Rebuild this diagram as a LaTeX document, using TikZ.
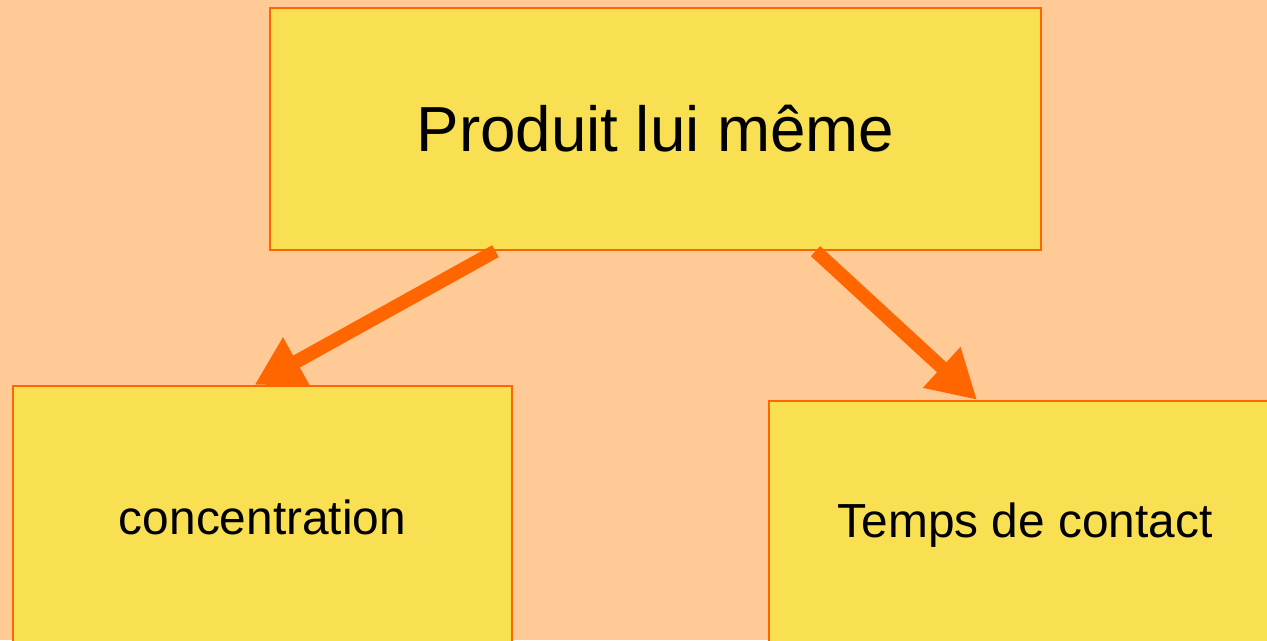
\documentclass[tikz,border=0pt]{standalone}
\usepackage{fontspec}
\setmainfont{Liberation Sans}
\usetikzlibrary{arrows.meta,positioning}
\definecolor{peach}{HTML}{FFCA96}
\definecolor{boxyellow}{HTML}{F9DF52}
\definecolor{darkorange}{HTML}{FF6600}
\tikzset{
    %Define style for boxes
    kasten/.style={
           rectangle,
           fill=boxyellow,
           draw=darkorange, line width=1.6pt,
           inner sep=0pt,
           text centered},
    % Define arrow style
    pfeil/.style={
           -{Triangle[length=1.2cm,width=1.3cm]},
           draw=darkorange,
           line width=0.34cm}
}
\begin{document}
\begin{tikzpicture}[x=0.025cm,y=-0.025cm]
\clip (0,0) rectangle (1267,640);
\fill[peach] (0,0) rectangle (1267,640);
\useasboundingbox (0,0) rectangle (1267,640);

\node[kasten, minimum width=19.275cm, minimum height=6.05cm,
      font=\fontsize{45.3}{54}\selectfont] (produit) at (655.5,129) {Produit lui même};
\node[kasten, minimum width=12.475cm, minimum height=6.55cm,
      font=\fontsize{34}{41}\selectfont] (conc) at (262.5,517) {concentration};
\node[kasten, minimum width=12.8cm, minimum height=6.2cm,
      font=\fontsize{34}{41}\selectfont] (temps) at (1025,525) {Temps de contact};

\draw[pfeil] ([xshift=-4cm]produit.south) -- ([xshift=-0.2cm]conc.north);
\draw[pfeil] ([xshift=4cm]produit.south) -- ([xshift=-1.2cm]temps.north);
\end{tikzpicture}
\end{document}
